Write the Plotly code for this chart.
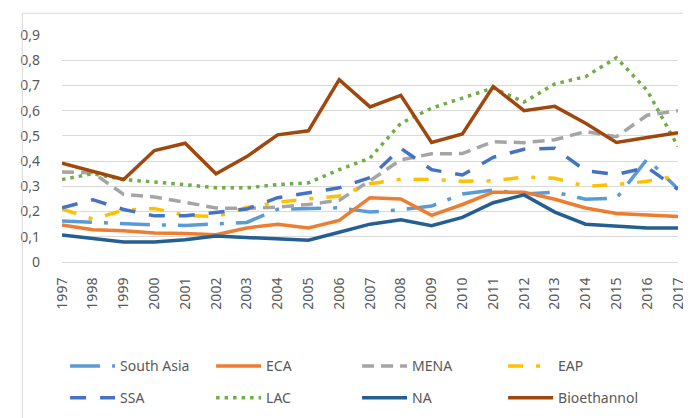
import plotly.graph_objects as go

years = [str(y) for y in range(1997, 2018)]

south_asia = [0.163, 0.157, 0.15, 0.147, 0.145, 0.15, 0.157, 0.209, 0.212, 0.215, 0.198,
              0.207, 0.222, 0.27, 0.285, 0.27, 0.277, 0.249, 0.253, 0.408, 0.29]
eca = [0.147, 0.128, 0.124, 0.115, 0.113, 0.108, 0.135, 0.15, 0.135, 0.165, 0.255,
       0.25, 0.185, 0.228, 0.277, 0.277, 0.249, 0.214, 0.192, 0.187, 0.18]
mena = [0.357, 0.354, 0.268, 0.258, 0.237, 0.214, 0.212, 0.218, 0.228, 0.245, 0.322,
        0.405, 0.429, 0.43, 0.477, 0.473, 0.485, 0.517, 0.497, 0.582, 0.6]
eap = [0.21, 0.17, 0.205, 0.212, 0.185, 0.18, 0.216, 0.237, 0.25, 0.262, 0.31,
       0.328, 0.327, 0.32, 0.322, 0.337, 0.332, 0.30, 0.307, 0.32, 0.343]
ssa = [0.215, 0.247, 0.208, 0.183, 0.183, 0.196, 0.21, 0.255, 0.275, 0.294, 0.335,
       0.451, 0.366, 0.345, 0.415, 0.447, 0.451, 0.362, 0.347, 0.375, 0.288]
lac = [0.327, 0.35, 0.327, 0.318, 0.307, 0.294, 0.294, 0.307, 0.314, 0.366, 0.412,
       0.55, 0.61, 0.65, 0.69, 0.634, 0.706, 0.735, 0.81, 0.68, 0.458]
na = [0.107, 0.092, 0.079, 0.079, 0.088, 0.103, 0.098, 0.092, 0.086, 0.118, 0.15,
      0.167, 0.144, 0.177, 0.235, 0.266, 0.198, 0.15, 0.144, 0.135, 0.135]
bioethannol = [0.392, 0.36, 0.327, 0.442, 0.471, 0.35, 0.418, 0.504, 0.52, 0.723, 0.615,
               0.661, 0.474, 0.508, 0.696, 0.6, 0.617, 0.55, 0.474, 0.494, 0.513]

y_tick_vals = [0, 0.1, 0.2, 0.3, 0.4, 0.5, 0.6, 0.7, 0.8, 0.9]
y_tick_text = ["0", "0,1", "0,2", "0,3", "0,4", "0,5", "0,6", "0,7", "0,8", "0,9"]

series = [
    ("South Asia", south_asia, "#5B9BD5", "30px,12px,4px,12px", "legend"),
    ("ECA", eca, "#ED7D31", "solid", "legend"),
    ("MENA", mena, "#A5A5A5", "12px,7px", "legend"),
    ("EAP", eap, "#FFC000", "15px,13px,4px,13px", "legend"),
    ("SSA", ssa, "#4472C4", "16px,14px", "legend2"),
    ("LAC", lac, "#70AD47", "3.5px,5px", "legend2"),
    ("NA", na, "#255E91", "solid", "legend2"),
    ("Bioethannol", bioethannol, "#9E480E", "solid", "legend2"),
]

fig = go.Figure()
for name, vals, color, dash, leg in series:
    fig.add_trace(go.Scatter(
        x=years, y=vals, name=name, mode="lines",
        line=dict(color=color, width=3.5, dash=dash),
        legend=leg,
    ))

font_family = "Noto Sans, Open Sans, sans-serif"
text_color = "#595959"

legend_common = dict(
    orientation="h", xanchor="left", yanchor="middle",
    entrywidth=86, entrywidthmode="pixels",
    font=dict(family=font_family, size=14, color=text_color),
    bgcolor="rgba(0,0,0,0)", itemwidth=45,
)

fig.update_layout(
    width=691, height=418,
    margin=dict(l=52, r=19, t=27, b=161),
    paper_bgcolor="white", plot_bgcolor="white",
    font=dict(family=font_family, size=14, color=text_color),
    showlegend=True,
    legend=dict(x=0.005, y=-0.46, **legend_common),
    legend2=dict(x=0.005, y=-0.60, **legend_common),
    xaxis=dict(
        type="category", tickangle=-90, showgrid=False, ticks="",
        showline=True, linecolor="#D9D9D9", linewidth=1,
        tickfont=dict(family=font_family, size=14, color=text_color),
        ticklabelstandoff=9,
    ),
    yaxis=dict(
        range=[0, 0.9], tickvals=y_tick_vals, ticktext=y_tick_text,
        showgrid=True, gridcolor="#D9D9D9", gridwidth=1, zeroline=False,
        ticks="", showline=False, ticklabelstandoff=21,
        tickfont=dict(family=font_family, size=14, color=text_color),
    ),
    shapes=[
        dict(type="line", xref="paper", yref="paper", x0=-0.0645, x1=-0.0645,
             y0=1.096, y1=-0.75, line=dict(color="#D9D9D9", width=1)),
        dict(type="line", xref="paper", yref="paper", x0=-0.0645, x1=1.04,
             y0=1.096, y1=1.096, line=dict(color="#D9D9D9", width=1)),
    ],
)

fig.write_html("out.html")
